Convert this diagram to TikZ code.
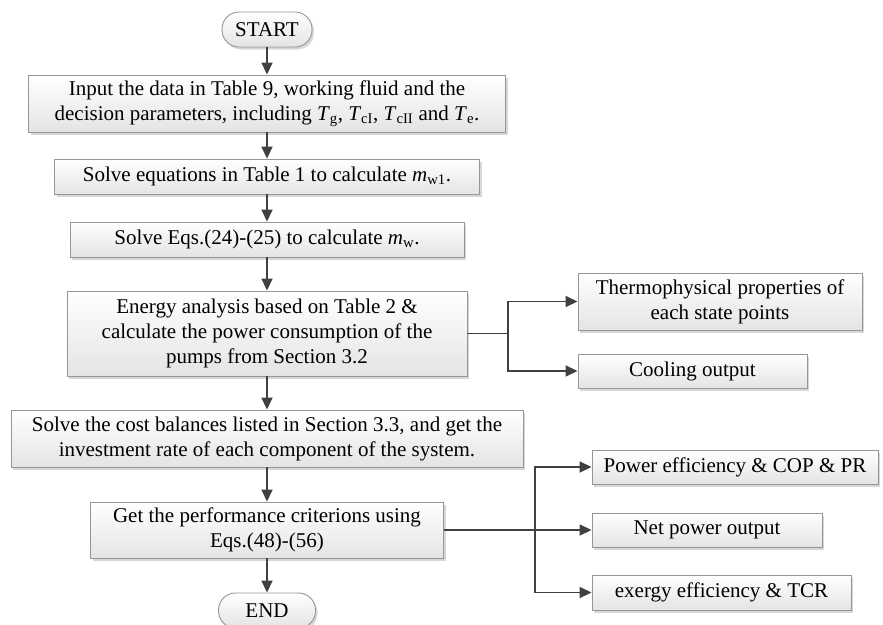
\documentclass[tikz,border=0pt]{standalone}
\usepackage{fontspec}
\setmainfont{Liberation Serif}
\usetikzlibrary{arrows.meta,shadows}
\definecolor{boxline}{RGB}{150,150,150}
\definecolor{boxbot}{RGB}{228,228,228}
\definecolor{arrc}{RGB}{64,64,64}
\definecolor{shadowc}{RGB}{215,215,215}
\begin{document}
\begin{tikzpicture}[x=1pt,y=-1pt,
  box/.style={draw=boxline, line width=0.9pt, top color=white, bottom color=boxbot,
    drop shadow={shadow xshift=2pt,shadow yshift=-2.5pt,fill=shadowc,opacity=1},
    inner sep=0pt, align=center, font=\fontsize{21}{25}\selectfont},
  term/.style={box, rounded corners=17pt},
  arr/.style={draw=arrc, line width=1.6pt, -{Triangle[length=12pt,width=11pt]}},
  ln/.style={draw=arrc, line width=1.6pt}]
\useasboundingbox (0,0) rectangle (883,624);

\node[term, minimum width=90pt, minimum height=35pt] (start) at (267,29.5) {START};
\node[box, minimum width=477pt, minimum height=57pt] (b1) at (267,103.5)
  {Input the data in Table 9, working fluid and the\\decision parameters, including \textit{T}\textsubscript{g}, \textit{T}\textsubscript{cI}, \textit{T}\textsubscript{cII} and \textit{T}\textsubscript{e}.};
\node[box, minimum width=425pt, minimum height=35pt] (b2) at (267,176.5)
  {Solve equations in Table 1 to calculate \textit{m}\textsubscript{w1}.};
\node[box, minimum width=394pt, minimum height=35pt] (b3) at (267,239.5)
  {Solve Eqs.(24)-(25) to calculate \textit{m}\textsubscript{w}.};
\node[box, minimum width=400pt, minimum height=85pt] (b4) at (267,333.5)
  {Energy analysis based on Table 2 \&\\calculate the power consumption of the\\pumps from Section 3.2};
\node[box, minimum width=512pt, minimum height=57pt] (b5) at (267,438.5)
  {Solve the cost balances listed in Section 3.3, and get the\\investment rate of each component of the system.};
\node[box, minimum width=353pt, minimum height=56pt] (b6) at (267,530)
  {Get the performance criterions using\\Eqs.(48)-(56)};
\node[term, minimum width=97pt, minimum height=35pt] (end) at (267,610.5) {END};

\node[box, minimum width=284pt, minimum height=57pt] (thermo) at (720,301.5)
  {Thermophysical properties of\\each state points};
\node[box, minimum width=229pt, minimum height=34pt] (cool) at (692.5,371)
  {Cooling output};
\node[box, minimum width=286pt, minimum height=34pt] (power) at (735,467)
  {Power efficiency \& COP \& PR};
\node[box, minimum width=230pt, minimum height=34pt] (net) at (707,530)
  {Net power output};
\node[box, minimum width=259pt, minimum height=35pt] (exergy) at (721.5,592.5)
  {exergy efficiency \& TCR};

\draw[arr] (start) -- (b1);
\draw[arr] (b1) -- (b2);
\draw[arr] (b2) -- (b3);
\draw[arr] (b3) -- (b4);
\draw[arr] (b4) -- (b5);
\draw[arr] (b5) -- (b6);
\draw[arr] (b6) -- (end);

\coordinate (j1) at (508,333.5);
\draw[ln] (b4.east) -- (j1);
\draw[arr] (j1) |- (thermo.west);
\draw[arr] (j1) |- (cool.west);

\coordinate (j2) at (535,530);
\draw[arr] (b6.east) -- (net.west);
\draw[arr] (j2) |- (power.west);
\draw[arr] (j2) |- (exergy.west);
\end{tikzpicture}
\end{document}
